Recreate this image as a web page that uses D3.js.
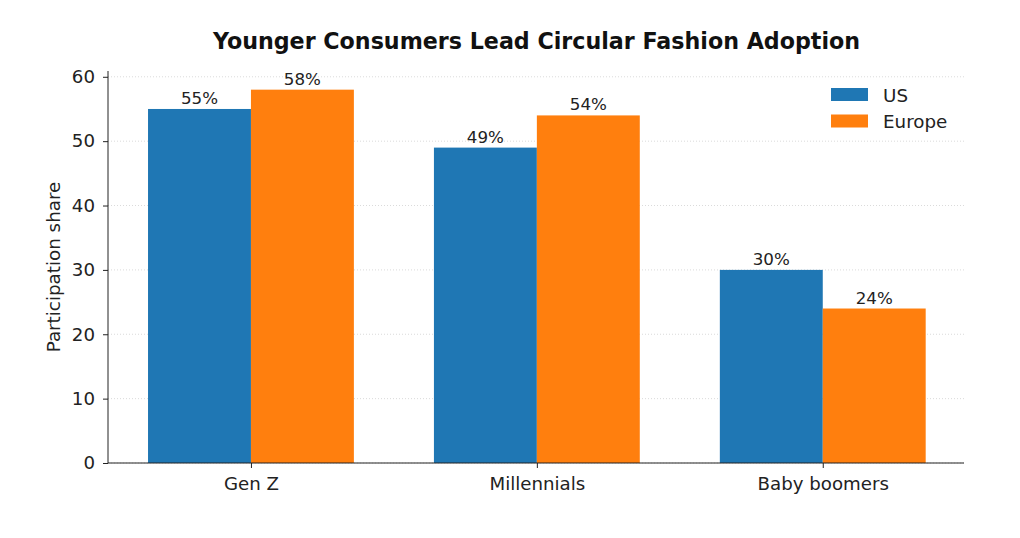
<!DOCTYPE html>
<html><head><meta charset="utf-8">
<script src="https://cdn.jsdelivr.net/npm/d3@7"></script>
<style>body{margin:0;background:#fff;font-family:"DejaVu Sans",sans-serif}</style>
</head><body><svg id="c" width="1020" height="538" font-family="DejaVu Sans"></svg>
<script>
const categories = ["Gen Z", "Millennials", "Baby boomers"];
const seriesNames = ["US", "Europe"];
const usValues = [55, 49, 30];
const europeValues = [58, 54, 24];
const yTicks = [0, 10, 20, 30, 40, 50, 60];
const colors = ["#1f77b4", "#ff7f0e"];

const svg = d3.select("#c");
const L = 108, R = 964, T = 71, B = 463;
const x = d3.scaleLinear().domain([-0.5, 2.494]).range([L, R]);
const y = d3.scaleLinear().domain([0, 60.9]).range([B, T]);
const bw = 0.36;

// grid
svg.append("g").selectAll("line").data(yTicks).join("line")
  .attr("x1", L).attr("x2", R).attr("y1", d => y(d)).attr("y2", d => y(d))
  .attr("stroke", "#d0d0d0").attr("stroke-width", 0.8).attr("stroke-dasharray", "1,2");

const series = [usValues, europeValues];
series.forEach((vals, si) => {
  const off = si === 0 ? -bw / 2 : bw / 2;
  const g = svg.append("g");
  g.selectAll("rect").data(vals).join("rect")
    .attr("x", (d, i) => x(i + off - bw / 2))
    .attr("width", x(bw) - x(0))
    .attr("y", d => y(d)).attr("height", d => B - y(d))
    .attr("fill", colors[si]);
  g.selectAll("text").data(vals).join("text")
    .attr("x", (d, i) => x(i + off)).attr("y", d => y(d) - 5)
    .attr("text-anchor", "middle").attr("font-size", 16.7).attr("fill", "#222")
    .text(d => d + "%");
});

// axes
const yAxis = d3.axisLeft(y).tickValues(yTicks).tickSize(5).tickPadding(8);
const ga = svg.append("g").attr("transform", `translate(${L},0)`).call(yAxis);
const xAxis = d3.axisBottom(x).tickValues([0, 1, 2]).tickFormat(i => categories[i]).tickSize(5).tickPadding(9);
const gb = svg.append("g").attr("transform", `translate(0,${B})`).call(xAxis);
[ga, gb].forEach(g => {
  g.attr("font-size", 18.2).attr("font-family", "DejaVu Sans");
  g.select(".domain").remove();
  g.selectAll("text").attr("fill", "#222");
  g.selectAll("line").attr("stroke", "#222");
});
svg.append("line").attr("x1", L).attr("x2", L).attr("y1", T).attr("y2", B).attr("stroke", "#222");
svg.append("line").attr("x1", L).attr("x2", R).attr("y1", B).attr("y2", B).attr("stroke", "#222");

svg.append("text").attr("transform", `translate(60,${(T + B) / 2}) rotate(-90)`)
  .attr("text-anchor", "middle").attr("font-size", 18.3).attr("fill", "#222").text("Participation share");

svg.append("text").attr("x", 536.5).attr("y", 49).attr("text-anchor", "middle")
  .attr("font-size", 22.2).attr("font-weight", "bold").attr("fill", "#111")
  .text("Younger Consumers Lead Circular Fashion Adoption");

// legend
const lg = svg.append("g");
seriesNames.forEach((n, i) => {
  lg.append("rect").attr("x", 831).attr("y", 88 + i * 26.5).attr("width", 37).attr("height", 13).attr("fill", colors[i]);
  lg.append("text").attr("x", 883).attr("y", 101.5 + i * 26.5).attr("font-size", 18.3).attr("fill", "#222").text(n);
});
</script></body></html>
